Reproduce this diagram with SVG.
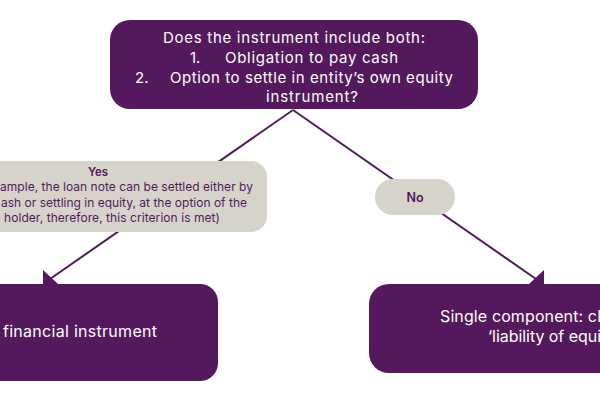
<svg xmlns="http://www.w3.org/2000/svg" width="600" height="400" viewBox="0 0 600 400">
<style>
.box{fill:#54195C}
.lbl{fill:#D6D3CB}
.wt{fill:#FFFFFF;font-family:Inter,"Noto Sans","Liberation Sans",sans-serif}
.pt{fill:#54195C;font-family:Inter,"Noto Sans","Liberation Sans",sans-serif}
.ln{stroke:#54195C;stroke-width:2;fill:none}
.ah{fill:#54195C}
</style>
<rect width="600" height="400" fill="#FFFFFF"/>
<g id="connectors">
<line class="ln" x1="293" y1="110" x2="50" y2="279"/>
<polygon class="ah" points="43,270 58,284 43,284"/>
<line class="ln" x1="293" y1="110" x2="536" y2="279"/>
<polygon class="ah" points="544,270 529,284 544,284"/>
</g>
<g id="question">
<rect class="box" x="110" y="20" width="368" height="89" rx="20"/>
<text class="wt" font-size="15">
<tspan x="163" y="43" textLength="262">Does the instrument include both:</tspan>
<tspan x="190" y="63">1.</tspan>
<tspan x="225" y="63" textLength="173">Obligation to pay cash</tspan>
<tspan x="135" y="83">2.</tspan>
<tspan x="170" y="83" textLength="283">Option to settle in entity’s own equity</tspan>
<tspan x="266" y="102" textLength="92">instrument?</tspan>
</text>
</g>
<g id="yes">
<rect class="lbl" x="-80" y="161" width="347" height="71" rx="16"/>
<text class="pt" font-size="11.5" font-weight="600" x="98" y="176" text-anchor="middle">Yes</text>
<text class="pt" font-size="12">
<tspan x="0" y="191" textLength="253">ample, the loan note can be settled either by</tspan>
<tspan x="1" y="206.5" textLength="246">ash or settling in equity, at the option of the</tspan>
<tspan x="4" y="222" textLength="216">holder, therefore, this criterion is met)</tspan>
</text>
</g>
<g id="no">
<rect class="lbl" x="375" y="179" width="80" height="36" rx="18"/>
<text class="pt" font-size="12.5" font-weight="600" x="415" y="202" text-anchor="middle">No</text>
</g>
<g id="compound">
<rect class="box" x="-80" y="284" width="298" height="97" rx="18"/>
<text class="wt" font-size="16" x="3" y="337" textLength="154">financial instrument</text>
</g>
<g id="single">
<rect class="box" x="369" y="284" width="300" height="89" rx="20"/>
<text class="wt" font-size="16">
<tspan x="440" y="322" textLength="161">Single component: cl</tspan>
<tspan x="488" y="342" textLength="113">‘liability of equi</tspan>
</text>
</g>
</svg>
